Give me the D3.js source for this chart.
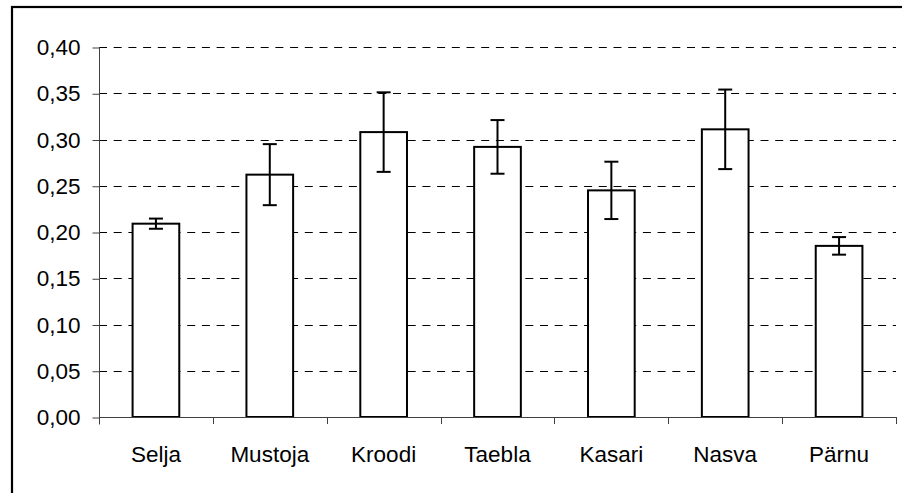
<!DOCTYPE html>
<html>
<head>
<meta charset="utf-8">
<script src="https://cdn.jsdelivr.net/npm/d3@7"></script>
<style>
  html, body { margin: 0; padding: 0; background: #fff; }
  svg { display: block; }
  text { font-family: "Liberation Sans", Arial, sans-serif; }
</style>
</head>
<body>
<svg id="chart" width="902" height="493"></svg>
<script>
const categories = ["Selja", "Mustoja", "Kroodi", "Taebla", "Kasari", "Nasva", "Pärnu"];
const means = [0.209, 0.262, 0.308, 0.292, 0.245, 0.311, 0.185];
const errors = [0.0055, 0.033, 0.043, 0.029, 0.031, 0.043, 0.0095];
const yTicks = [0, 0.05, 0.10, 0.15, 0.20, 0.25, 0.30, 0.35, 0.40];

const svg = d3.select("#chart");
const plotLeft = 99, plotRight = 896, plotTop = 47, plotBottom = 417;
const fontSize = 22.5;

// outer frame
svg.append("rect")
  .attr("x", 12).attr("y", 7)
  .attr("width", 1000).attr("height", 1000)
  .attr("fill", "none").attr("stroke", "#000").attr("stroke-width", 2.2);

const x = d3.scaleBand().domain(categories).range([plotLeft, plotRight])
  .paddingInner(0.59).paddingOuter(0.295);
const y = d3.scaleLinear().domain([0, 0.4]).range([plotBottom, plotTop]);

// gridlines
svg.append("g").selectAll("line").data(yTicks.filter(d => d > 0)).join("line")
  .attr("x1", plotLeft).attr("x2", plotRight)
  .attr("y1", d => Math.round(y(d)) + 0.5).attr("y2", d => Math.round(y(d)) + 0.5)
  .attr("stroke", "#000").attr("stroke-width", 1)
  .attr("stroke-dasharray", "8,6.7");

// y axis
const fmt = d => d3.format(".2f")(d).replace(".", ",");
const yAxis = svg.append("g")
  .attr("transform", `translate(${plotLeft + 0.5},0.5)`)
  .call(d3.axisLeft(y).tickValues(yTicks).tickFormat(fmt).tickSize(7).tickPadding(12));
yAxis.select(".domain").attr("stroke", "#404040")
  .attr("d", `M0,${y(0.4)}V${y(0) + 7}`);
yAxis.selectAll(".tick line").attr("stroke", "#404040");
yAxis.selectAll(".tick text").attr("font-size", fontSize).attr("fill", "#000")
  .attr("font-family", "Liberation Sans, Arial, sans-serif");

// bars
svg.append("g").selectAll("rect").data(categories).join("rect")
  .attr("x", d => x(d))
  .attr("y", (d, i) => y(means[i]))
  .attr("width", x.bandwidth())
  .attr("height", (d, i) => y(0) - y(means[i]))
  .attr("fill", "#fff").attr("stroke", "#000").attr("stroke-width", 2);

// x axis line and boundary ticks
const step = x.step();
const xg = svg.append("g");
xg.append("line")
  .attr("x1", plotLeft).attr("x2", plotRight)
  .attr("y1", plotBottom + 0.5).attr("y2", plotBottom + 0.5)
  .attr("stroke", "#404040").attr("stroke-width", 1);
xg.selectAll("line.tk").data(d3.range(categories.length + 1)).join("line")
  .attr("class", "tk")
  .attr("x1", i => Math.round(plotLeft + i * step) + 0.5)
  .attr("x2", i => Math.round(plotLeft + i * step) + 0.5)
  .attr("y1", plotBottom).attr("y2", plotBottom + 7)
  .attr("stroke", "#404040").attr("stroke-width", 1);
xg.selectAll("text").data(categories).join("text")
  .attr("x", d => x(d) + x.bandwidth() / 2)
  .attr("y", 462)
  .attr("text-anchor", "middle")
  .attr("font-size", fontSize)
  .attr("fill", "#000")
  .text(d => d);

// error bars
const capW = 7;
const eg = svg.append("g").attr("stroke", "#000").attr("stroke-width", 2);
categories.forEach((c, i) => {
  const cx = x(c) + x.bandwidth() / 2;
  const hi = y(means[i] + errors[i]), lo = y(means[i] - errors[i]);
  eg.append("line").attr("x1", cx).attr("x2", cx).attr("y1", hi).attr("y2", lo);
  eg.append("line").attr("x1", cx - capW).attr("x2", cx + capW).attr("y1", hi).attr("y2", hi);
  eg.append("line").attr("x1", cx - capW).attr("x2", cx + capW).attr("y1", lo).attr("y2", lo);
});
</script>
</body>
</html>
